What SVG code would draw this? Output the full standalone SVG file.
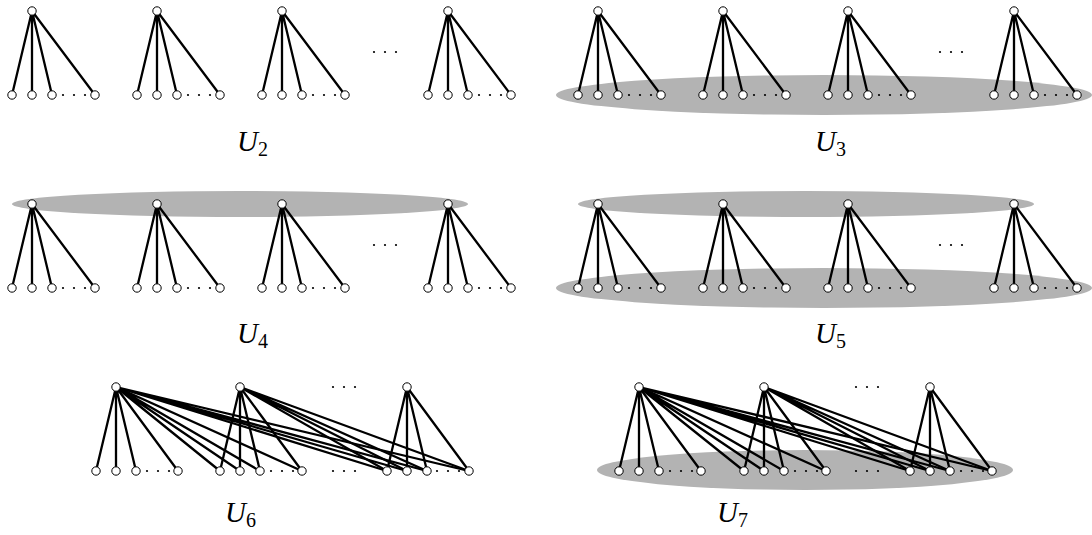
<svg xmlns="http://www.w3.org/2000/svg" width="1092" height="535" viewBox="0 0 1092 535">
<style>
.blob{fill:#b3b3b3;stroke:none}
.e{stroke:#000;stroke-width:2.3;fill:none;stroke-linecap:round}
.n{fill:#fff;stroke:#000;stroke-width:1}
.d{fill:#000}
.lab{font-family:"Liberation Serif","DejaVu Serif",serif;font-style:italic;font-size:29px;fill:#000}
.sub{font-style:normal;font-size:20px}
</style>
<defs>
<circle id="nd" r="4.2" class="n"/>
<g id="dots3"><circle cx="0" cy="0" r="1.1"/><circle cx="11" cy="0" r="1.1"/><circle cx="22" cy="0" r="1.1"/></g>
</defs>

<!-- shaded regions -->
<g id="regions">
<ellipse class="blob" cx="824" cy="95" rx="268" ry="20"/>
<ellipse class="blob" cx="240" cy="204" rx="228" ry="13"/>
<ellipse class="blob" cx="806" cy="204" rx="228" ry="13"/>
<ellipse class="blob" cx="824" cy="288" rx="268" ry="20"/>
<ellipse class="blob" cx="805" cy="470" rx="208" ry="20"/>
</g>

<!-- connectors -->
<g id="connectors" class="e">
<!-- U2 -->
<path d="M32 11L12 95M32 11L32 95M32 11L52 95M32 11L95 95"/>
<path d="M157 11L137 95M157 11L157 95M157 11L177 95M157 11L220 95"/>
<path d="M282 11L262 95M282 11L282 95M282 11L302 95M282 11L345 95"/>
<path d="M448 11L428 95M448 11L448 95M448 11L468 95M448 11L511 95"/>
<!-- U3 -->
<path d="M598 11L578 95M598 11L598 95M598 11L618 95M598 11L661 95"/>
<path d="M723 11L703 95M723 11L723 95M723 11L743 95M723 11L786 95"/>
<path d="M848 11L828 95M848 11L848 95M848 11L868 95M848 11L911 95"/>
<path d="M1014 11L994 95M1014 11L1014 95M1014 11L1034 95M1014 11L1077 95"/>
<!-- U4 -->
<path d="M32 204L12 288M32 204L32 288M32 204L52 288M32 204L95 288"/>
<path d="M157 204L137 288M157 204L157 288M157 204L177 288M157 204L220 288"/>
<path d="M282 204L262 288M282 204L282 288M282 204L302 288M282 204L345 288"/>
<path d="M448 204L428 288M448 204L448 288M448 204L468 288M448 204L511 288"/>
<!-- U5 -->
<path d="M598 204L578 288M598 204L598 288M598 204L618 288M598 204L661 288"/>
<path d="M723 204L703 288M723 204L723 288M723 204L743 288M723 204L786 288"/>
<path d="M848 204L828 288M848 204L848 288M848 204L868 288M848 204L911 288"/>
<path d="M1014 204L994 288M1014 204L1014 288M1014 204L1034 288M1014 204L1077 288"/>
<!-- U6 -->
<path d="M116 387L96 471M116 387L116 471M116 387L136 471M116 387L178 471"/>
<path d="M116 387L220 471M116 387L240 471M116 387L260 471M116 387L302 471"/>
<path d="M116 387L387 471M116 387L407 471M116 387L427 471M116 387L469 471"/>
<path d="M240 387L220 471M240 387L240 471M240 387L260 471M240 387L302 471"/>
<path d="M240 387L387 471M240 387L407 471M240 387L427 471M240 387L469 471"/>
<path d="M407 387L387 471M407 387L407 471M407 387L427 471M407 387L469 471"/>
<!-- U7 -->
<path d="M639 387L619 471M639 387L639 471M639 387L659 471M639 387L701 471"/>
<path d="M639 387L744 471M639 387L764 471M639 387L784 471M639 387L826 471"/>
<path d="M639 387L910 471M639 387L930 471M639 387L950 471M639 387L992 471"/>
<path d="M764 387L744 471M764 387L764 471M764 387L784 471M764 387L826 471"/>
<path d="M764 387L910 471M764 387L930 471M764 387L950 471M764 387L992 471"/>
<path d="M930 387L910 471M930 387L930 471M930 387L950 471M930 387L992 471"/>
</g>

<!-- ellipsis dots -->
<g id="ellipses" class="d">
<use href="#dots3" x="63" y="95"/><use href="#dots3" x="188" y="95"/><use href="#dots3" x="313" y="95"/><use href="#dots3" x="479" y="95"/>
<use href="#dots3" x="374" y="52"/>
<use href="#dots3" x="629" y="95"/><use href="#dots3" x="754" y="95"/><use href="#dots3" x="879" y="95"/><use href="#dots3" x="1045" y="95"/>
<use href="#dots3" x="940" y="52"/>
<use href="#dots3" x="63" y="288"/><use href="#dots3" x="188" y="288"/><use href="#dots3" x="313" y="288"/><use href="#dots3" x="479" y="288"/>
<use href="#dots3" x="374" y="245"/>
<use href="#dots3" x="629" y="288"/><use href="#dots3" x="754" y="288"/><use href="#dots3" x="879" y="288"/><use href="#dots3" x="1045" y="288"/>
<use href="#dots3" x="940" y="245"/>
<use href="#dots3" x="147" y="471"/><use href="#dots3" x="271" y="471"/><use href="#dots3" x="437" y="471"/>
<use href="#dots3" x="333" y="387"/><use href="#dots3" x="333" y="471"/>
<use href="#dots3" x="670" y="471"/><use href="#dots3" x="795" y="471"/><use href="#dots3" x="961" y="471"/>
<use href="#dots3" x="856" y="387"/><use href="#dots3" x="856" y="471"/>
</g>

<!-- U2 nodes -->
<g id="U2-s1"><use href="#nd" x="32" y="11"/><use href="#nd" x="12" y="95"/><use href="#nd" x="32" y="95"/><use href="#nd" x="52" y="95"/><use href="#nd" x="95" y="95"/></g>
<g id="U2-s2"><use href="#nd" x="157" y="11"/><use href="#nd" x="137" y="95"/><use href="#nd" x="157" y="95"/><use href="#nd" x="177" y="95"/><use href="#nd" x="220" y="95"/></g>
<g id="U2-s3"><use href="#nd" x="282" y="11"/><use href="#nd" x="262" y="95"/><use href="#nd" x="282" y="95"/><use href="#nd" x="302" y="95"/><use href="#nd" x="345" y="95"/></g>
<g id="U2-s4"><use href="#nd" x="448" y="11"/><use href="#nd" x="428" y="95"/><use href="#nd" x="448" y="95"/><use href="#nd" x="468" y="95"/><use href="#nd" x="511" y="95"/></g>
<!-- U3 nodes -->
<g id="U3-s1"><use href="#nd" x="598" y="11"/><use href="#nd" x="578" y="95"/><use href="#nd" x="598" y="95"/><use href="#nd" x="618" y="95"/><use href="#nd" x="661" y="95"/></g>
<g id="U3-s2"><use href="#nd" x="723" y="11"/><use href="#nd" x="703" y="95"/><use href="#nd" x="723" y="95"/><use href="#nd" x="743" y="95"/><use href="#nd" x="786" y="95"/></g>
<g id="U3-s3"><use href="#nd" x="848" y="11"/><use href="#nd" x="828" y="95"/><use href="#nd" x="848" y="95"/><use href="#nd" x="868" y="95"/><use href="#nd" x="911" y="95"/></g>
<g id="U3-s4"><use href="#nd" x="1014" y="11"/><use href="#nd" x="994" y="95"/><use href="#nd" x="1014" y="95"/><use href="#nd" x="1034" y="95"/><use href="#nd" x="1077" y="95"/></g>
<!-- U4 nodes -->
<g id="U4-s1"><use href="#nd" x="32" y="204"/><use href="#nd" x="12" y="288"/><use href="#nd" x="32" y="288"/><use href="#nd" x="52" y="288"/><use href="#nd" x="95" y="288"/></g>
<g id="U4-s2"><use href="#nd" x="157" y="204"/><use href="#nd" x="137" y="288"/><use href="#nd" x="157" y="288"/><use href="#nd" x="177" y="288"/><use href="#nd" x="220" y="288"/></g>
<g id="U4-s3"><use href="#nd" x="282" y="204"/><use href="#nd" x="262" y="288"/><use href="#nd" x="282" y="288"/><use href="#nd" x="302" y="288"/><use href="#nd" x="345" y="288"/></g>
<g id="U4-s4"><use href="#nd" x="448" y="204"/><use href="#nd" x="428" y="288"/><use href="#nd" x="448" y="288"/><use href="#nd" x="468" y="288"/><use href="#nd" x="511" y="288"/></g>
<!-- U5 nodes -->
<g id="U5-s1"><use href="#nd" x="598" y="204"/><use href="#nd" x="578" y="288"/><use href="#nd" x="598" y="288"/><use href="#nd" x="618" y="288"/><use href="#nd" x="661" y="288"/></g>
<g id="U5-s2"><use href="#nd" x="723" y="204"/><use href="#nd" x="703" y="288"/><use href="#nd" x="723" y="288"/><use href="#nd" x="743" y="288"/><use href="#nd" x="786" y="288"/></g>
<g id="U5-s3"><use href="#nd" x="848" y="204"/><use href="#nd" x="828" y="288"/><use href="#nd" x="848" y="288"/><use href="#nd" x="868" y="288"/><use href="#nd" x="911" y="288"/></g>
<g id="U5-s4"><use href="#nd" x="1014" y="204"/><use href="#nd" x="994" y="288"/><use href="#nd" x="1014" y="288"/><use href="#nd" x="1034" y="288"/><use href="#nd" x="1077" y="288"/></g>
<!-- U6 nodes -->
<g id="U6-s1"><use href="#nd" x="116" y="387"/><use href="#nd" x="96" y="471"/><use href="#nd" x="116" y="471"/><use href="#nd" x="136" y="471"/><use href="#nd" x="178" y="471"/></g>
<g id="U6-s2"><use href="#nd" x="240" y="387"/><use href="#nd" x="220" y="471"/><use href="#nd" x="240" y="471"/><use href="#nd" x="260" y="471"/><use href="#nd" x="302" y="471"/></g>
<g id="U6-s3"><use href="#nd" x="407" y="387"/><use href="#nd" x="387" y="471"/><use href="#nd" x="407" y="471"/><use href="#nd" x="427" y="471"/><use href="#nd" x="469" y="471"/></g>
<!-- U7 nodes -->
<g id="U7-s1"><use href="#nd" x="639" y="387"/><use href="#nd" x="619" y="471"/><use href="#nd" x="639" y="471"/><use href="#nd" x="659" y="471"/><use href="#nd" x="701" y="471"/></g>
<g id="U7-s2"><use href="#nd" x="764" y="387"/><use href="#nd" x="744" y="471"/><use href="#nd" x="764" y="471"/><use href="#nd" x="784" y="471"/><use href="#nd" x="826" y="471"/></g>
<g id="U7-s3"><use href="#nd" x="930" y="387"/><use href="#nd" x="910" y="471"/><use href="#nd" x="930" y="471"/><use href="#nd" x="950" y="471"/><use href="#nd" x="992" y="471"/></g>

<!-- labels -->
<g id="labels">
<text class="lab" x="237" y="151">U<tspan class="sub" dy="5">2</tspan></text>
<text class="lab" x="815" y="151">U<tspan class="sub" dy="5">3</tspan></text>
<text class="lab" x="237" y="343">U<tspan class="sub" dy="5">4</tspan></text>
<text class="lab" x="815" y="343">U<tspan class="sub" dy="5">5</tspan></text>
<text class="lab" x="225" y="522">U<tspan class="sub" dy="5">6</tspan></text>
<text class="lab" x="717" y="522">U<tspan class="sub" dy="5">7</tspan></text>
</g>
</svg>
